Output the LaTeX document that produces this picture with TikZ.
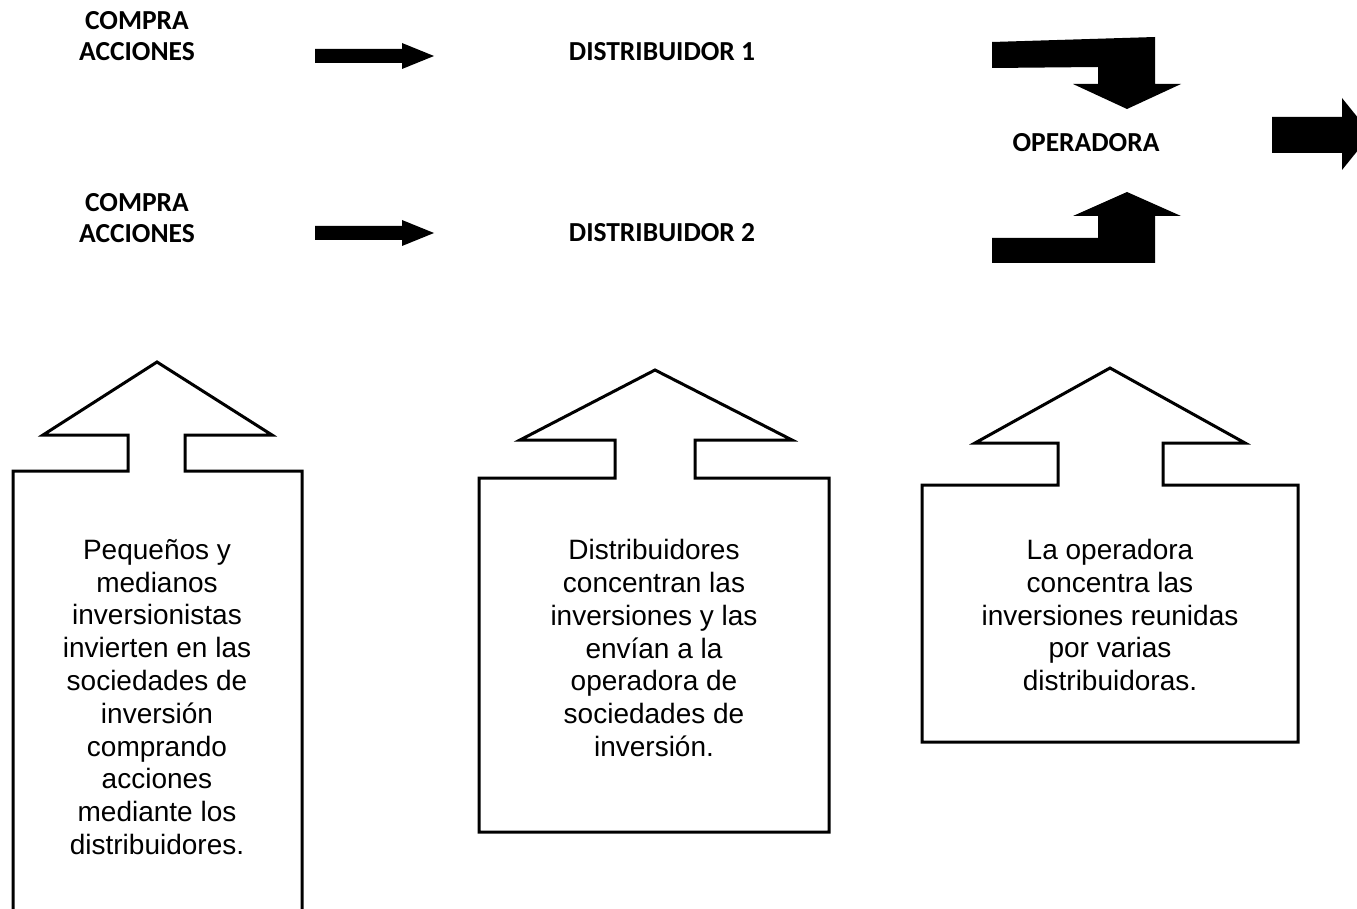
\documentclass[tikz,border=0pt]{standalone}
\usepackage{fontspec}
\setmainfont{Liberation Sans}
\newfontfamily\lblfont{Carlito}
\begin{document}
\begin{tikzpicture}[x=1pt,y=-1pt,
  blockarrow/.style={fill=black, draw=none},
  callout/.style={draw=black, line width=3pt, line join=miter, fill=white},
  lbl/.style={font=\lblfont\bfseries\fontsize{27.5}{31}\selectfont, align=center, inner sep=0pt},
  bodytext/.style={font=\fontsize{28}{32.8}\selectfont, align=center, inner sep=0pt}]
\useasboundingbox (0,0) rectangle (1357,909);
\clip (0,0) rectangle (1357,909);

% row labels
\node[lbl] (compra1) at (137,36) {COMPRA\\ACCIONES};
\node[lbl] (compra2) at (137,218) {COMPRA\\ACCIONES};
\node[lbl] (dist1) at (662,52) {DISTRIBUIDOR 1};
\node[lbl] (dist2) at (662,233) {DISTRIBUIDOR 2};
\node[lbl] (oper) at (1086,143) {OPERADORA};

% straight block arrows
\foreach \dy in {0,177} {
  \fill[blockarrow, yshift=-\dy pt]
    (315,49) -- (402,49) -- (402,43) -- (434,56) -- (402,69) -- (402,63) -- (315,63) -- cycle;
}

% bent arrow from distribuidor 1 down to operadora
\fill[blockarrow]
  (992,42) -- (1155,37) -- (1155,84) -- (1181,84) -- (1127,109) -- (1073,84)
  -- (1098,84) -- (1098,67) -- (992,68) -- cycle;

% bent arrow from distribuidor 2 up to operadora
\fill[blockarrow]
  (992,238) -- (1098,238) -- (1098,216) -- (1073,216) -- (1127,192) -- (1181,216)
  -- (1155,216) -- (1155,263) -- (992,263) -- cycle;

% outgoing arrow on the right
\fill[blockarrow]
  (1272,117) -- (1342,117) -- (1342,98) -- (1371,134) -- (1342,170) -- (1342,153)
  -- (1272,153) -- cycle;

% up-arrow callouts
\draw[callout]
  (13,471) -- (128,471) -- (128,435) -- (43,435) -- (157,362) -- (272,435)
  -- (185,435) -- (185,471) -- (302,471) -- (302,925) -- (13,925) -- cycle;
\draw[callout]
  (479,478) -- (615,478) -- (615,440) -- (520,440) -- (655,370) -- (792,440)
  -- (695,440) -- (695,478) -- (829,478) -- (829,832) -- (479,832) -- cycle;
\draw[callout]
  (922,485) -- (1058,485) -- (1058,443) -- (975,443) -- (1110,368) -- (1245,443)
  -- (1163,443) -- (1163,485) -- (1298,485) -- (1298,742) -- (922,742) -- cycle;

\node[bodytext] (txt1) at (157,697) {Pequeños y\\medianos\\inversionistas\\invierten en las\\sociedades de\\inversión\\comprando\\acciones\\mediante los\\distribuidores.};
\node[bodytext] (txt2) at (654,648) {Distribuidores\\concentran las\\inversiones y las\\envían a la\\operadora de\\sociedades de\\inversión.};
\node[bodytext] (txt3) at (1110,615) {La operadora\\concentra las\\inversiones reunidas\\por varias\\distribuidoras.};
\end{tikzpicture}
\end{document}
